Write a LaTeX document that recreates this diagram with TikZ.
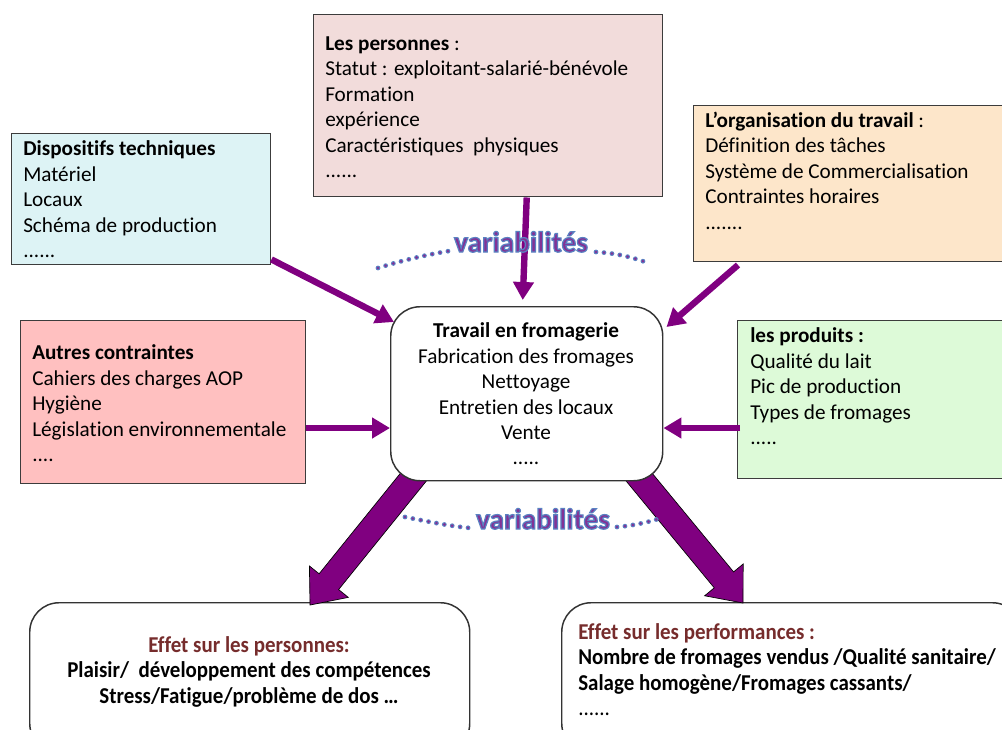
\documentclass[tikz,border=0pt]{standalone}
\usepackage{fontspec}
\setmainfont{Carlito}[Ligatures=NoCommon]
\newfontfamily\condfont[FakeStretch=0.925,Ligatures=NoCommon]{Carlito}
\usetikzlibrary{calc,arrows.meta}
\definecolor{purp}{RGB}{128,0,128}
\definecolor{bordergray}{RGB}{60,60,60}
\definecolor{cyanbg}{RGB}{221,243,245}
\definecolor{persbg}{RGB}{242,220,219}
\definecolor{orgbg}{RGB}{253,230,202}
\definecolor{autbg}{RGB}{255,192,192}
\definecolor{prodbg}{RGB}{221,250,216}
\definecolor{effred}{RGB}{118,44,44}
\definecolor{wablue}{RGB}{90,130,195}
\definecolor{wapurp}{RGB}{130,50,150}
\pgfdeclarelayer{bg}
\pgfsetlayers{bg,main}
\newcommand\bigarrow[3]{%
  \coordinate (#3H) at ($(#2)!22.5pt!(#1)$);
  \filldraw[fill=purp, draw=black, line width=0.5pt]
    ($(#1)!9.4pt!90:(#2)$) -- ($(#3H)!9.4pt!-90:(#1)$) -- ($(#3H)!18.75pt!-90:(#1)$)
    -- (#2) -- ($(#3H)!18.75pt!90:(#1)$) -- ($(#3H)!9.4pt!90:(#1)$)
    -- ($(#1)!9.4pt!-90:(#2)$) -- cycle;}
\newcommand\outlined[1]{\special{pdf:literal direct 0.35 0.51 0.76 RG 0.9 w 2 Tr}#1\special{pdf:literal direct 0 Tr}}
\begin{document}
\begin{tikzpicture}[x=0.75pt,y=-0.75pt,
  box/.style={draw=bordergray, line width=1.1pt, inner sep=0pt, anchor=north west},
  rbox/.style={draw=black!80, line width=1.1pt, inner sep=0pt, anchor=north west, rounded corners=22pt, fill=white},
  txt/.style={inner sep=0pt, align=left, anchor=north west, font=\fontsize{15.9}{19.1}\selectfont},
  ctxt/.style={inner sep=0pt, align=center, anchor=north, font=\fontsize{15.9}{19.1}\selectfont},
  ebox/.style={inner sep=0pt, font=\condfont\bfseries\fontsize{17}{19.1}\selectfont},
  arr/.style={draw=purp, line width=4.8pt, -{Triangle[width=15pt,length=13.5pt]}},
  wa/.style={inner sep=0pt, anchor=base, text=wapurp, font=\fontsize{22}{24}\selectfont\bfseries},
  dotsA/.style={draw=wablue, line width=3.6pt, line cap=round, dash pattern=on 0pt off 6pt},
  dotsB/.style={draw=wapurp, line width=2.2pt, line cap=round, dash pattern=on 0pt off 6pt}]
\useasboundingbox (0,0) rectangle (1002,729);
\clip (0,0) rectangle (1002,729);

% centre
\node[rbox, minimum width=204pt, minimum height=130.5pt] (ctr) at (390,306) {};
\node[ctxt] (ctrtxt) at (526,322.5) {\textbf{Travail en fromagerie}\\Fabrication des fromages\\Nettoyage\\Entretien des locaux\\Vente\\.....};

% bottom boxes and big arrows
\begin{pgfonlayer}{bg}
\node[rbox, minimum width=330pt, minimum height=112.5pt] (bl) at (29,602) {};
\node[rbox, minimum width=345pt, minimum height=112.5pt] (br) at (561,602) {};
\node[ebox, align=center, anchor=north] (bltxt) at (249,636)
  {\textcolor{effred}{Effet sur les personnes:}\\Plaisir/\ \ développement des compétences\\Stress/Fatigue/problème de dos \dots};
\node[ebox, align=left, anchor=north west] (brtxt) at (578,623)
  {\textcolor{effred}{Effet sur les performances :}\\Nombre de fromages vendus /Qualité sanitaire/\\Salage homogène/Fromages cassants/\\\mdseries......};
\coordinate (LA) at ($(ctr.south west)+(34,-17.5)$);
\coordinate (LT) at ($(bl.north west)+(281,3)$);
\coordinate (RA) at ($(ctr.south east)+(-35,-17.3)$);
\coordinate (RT) at ($(br.north west)+(182,1)$);
\bigarrow{LA}{LT}{left}
\bigarrow{RA}{RT}{right}
\end{pgfonlayer}

% top boxes
\node[box, fill=cyanbg, minimum width=194.25pt, minimum height=98.25pt] (disp) at (11,133) {};
\node[txt] (disptxt) at (23,140.5) {\textbf{Dispositifs techniques}\\Matériel\\Locaux\\Schéma de production\\......};
\node[box, fill=persbg, minimum width=261.75pt, minimum height=136.5pt] (pers) at (313,14) {};
\node[txt] (perstxt) at (325,36.5) {\textbf{Les personnes} :\\Statut : exploitant-salarié-bénévole\\Formation\\expérience\\Caractéristiques\ \ physiques\\......};
\node[box, fill=orgbg, minimum width=240pt, minimum height=117pt] (org) at (693,105) {};
\node[txt] (orgtxt) at (705,111.5) {\textbf{L’organisation du travail} :\\Définition des tâches\\Système de Commercialisation\\Contraintes horaires\\.......};
\node[box, fill=autbg, minimum width=213.75pt, minimum height=122.25pt] (aut) at (20,320) {};
\node[txt] (auttxt) at (32,344.5) {\textbf{Autres contraintes}\\Cahiers des charges AOP\\Hygiène\\Législation environnementale\\....};
\node[box, fill=prodbg, minimum width=210pt, minimum height=118.5pt] (prod) at (737,320) {};
\node[txt] (prodtxt) at (750,327.5) {\textbf{les produits :}\\Qualité du lait\\Pic de production\\Types de fromages\\.....};

% small arrows
\draw[arr] ($(disp.south east)+(0,-6)$) -- ($(ctr.north west)+(4,16)$);
\draw[arr] ($(pers.south)+(38.5,0)$) -- ($(ctr.north)+(-4,-6)$);
\draw[arr] ($(org.north west)+(45,160)$) -- ($(ctr.north east)+(3,21)$);
\draw[arr] ($(aut.north east)+(0,108)$) -- ($(ctr.north west)+(0,122)$);
\draw[arr] ($(prod.north west)+(3,108)$) -- ($(ctr.north east)+(0,122)$);

% variabilites
\foreach \s in {dotsA,dotsB} {
  \draw[\s] (378,268) .. controls (400,261) and (425,255) .. (449,251);
  \draw[\s] (596,252) .. controls (615,253) and (632,257) .. (648,263);
  \draw[\s] (405,517) .. controls (430,522) and (450,526) .. (470,528);
  \draw[\s] (617,527) .. controls (630,526) and (645,523) .. (658,519);
}
\node[wa] (var1) at (521,252) {\outlined{variabilités}};
\node[wa] (var2) at (543,529) {\outlined{variabilités}};
\end{tikzpicture}
\end{document}
